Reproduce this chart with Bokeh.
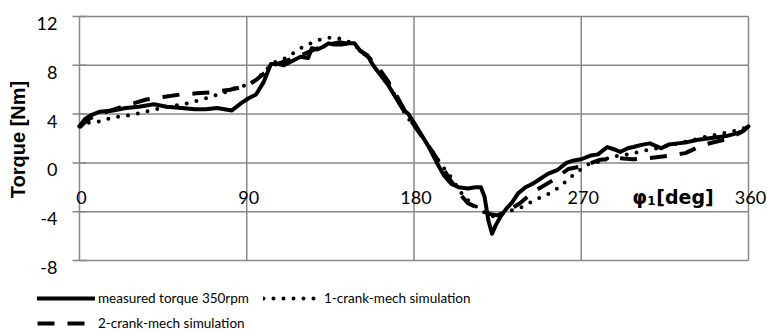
import math
from bokeh.plotting import figure
from bokeh.models import Range1d, Legend, LegendItem
from bokeh.core.properties import value
from bokeh.embed import file_html
from bokeh.resources import INLINE

# ---- data -------------------------------------------------------------
x_ticks = [0, 90, 180, 270, 360]
y_ticks = [-8, -4, 0, 4, 8, 12]
x_labels = [str(t) for t in x_ticks]
y_labels = [str(t) for t in y_ticks]

meas_deg = [0, 3, 6, 11, 18, 25, 32, 40, 47, 55, 62, 68, 74, 78, 82, 87, 91, 95, 99, 103,
            107, 110, 115, 119, 123, 125, 128, 131, 134, 137, 141, 145, 148, 151, 155, 158,
            162, 166, 170, 174, 177, 180, 184, 188, 192, 196, 200, 204, 209, 213, 216, 218,
            220, 222, 224, 227, 230, 233, 236, 240, 244, 248, 252, 257, 262, 266, 270, 275,
            279, 284, 288, 291, 295, 298, 303, 307, 310, 313, 317, 322, 327, 333, 338, 343,
            348, 353, 357, 360]
meas_torque = [3.0, 3.6, 3.9, 4.2, 4.3, 4.5, 4.6, 4.8, 4.6, 4.5, 4.4, 4.4, 4.5, 4.4, 4.3, 4.9,
               5.3, 5.6, 6.6, 8.1, 8.1, 8.0, 8.4, 8.7, 8.6, 9.4, 9.3, 9.5, 9.8, 9.7, 9.7, 9.8,
               9.8, 9.2, 8.8, 8.0, 7.2, 6.4, 5.4, 4.4, 4.0, 3.3, 2.3, 1.3, 0.1, -1.0, -1.7, -2.0,
               -2.1, -2.0, -2.0, -2.8, -4.7, -5.8, -5.1, -4.3, -3.7, -3.2, -2.5, -2.0, -1.7,
               -1.3, -0.9, -0.6, 0.0, 0.2, 0.3, 0.6, 0.7, 1.3, 1.1, 0.9, 1.2, 1.3, 1.5, 1.6,
               1.4, 1.2, 1.5, 1.6, 1.7, 1.9, 2.0, 2.1, 2.2, 2.4, 2.6, 3.0]

one_deg = [0, 5, 11, 17, 22, 27, 33, 38, 44, 51, 56, 61, 66, 72, 77, 83, 88, 93, 97, 104,
           111, 115, 121, 126, 131, 137, 142, 147, 152, 156, 159, 166, 171, 176, 180, 185,
           190, 195, 200, 207, 212, 216, 222, 227, 232, 237, 242, 247, 253, 259, 264, 270,
           275, 280, 286, 295, 304, 314, 325, 336, 345, 352, 357, 360]
one_torque = [3.0, 3.3, 3.4, 3.7, 3.8, 3.9, 4.1, 4.3, 4.5, 4.7, 4.8, 5.0, 5.2, 5.5, 5.7, 6.1,
              6.3, 6.6, 7.1, 8.2, 8.6, 9.0, 9.6, 9.9, 10.2, 10.3, 10.1, 9.8, 9.1, 8.5, 7.8,
              6.5, 5.2, 3.8, 3.1, 2.0, 0.9, -0.2, -1.2, -2.8, -3.4, -3.9, -4.4, -4.2, -3.9,
              -3.7, -3.3, -2.9, -2.5, -1.9, -1.2, -0.5, 0.0, 0.1, 0.5, 0.7, 1.0, 1.3, 1.7,
              2.1, 2.4, 2.6, 2.8, 3.0]

two_deg = [0, 4, 10, 17, 26, 36, 45, 54, 63, 72, 81, 90, 95, 99, 104, 110, 116, 122, 128, 134,
           140, 146, 151, 156, 160, 166, 171, 176, 180, 185, 190, 195, 200, 205, 209, 216,
           221, 225, 232, 237, 244, 255, 263, 271, 280, 290, 298, 307, 318, 326, 336, 347,
           356, 360]
two_torque = [2.9, 3.5, 4.0, 4.3, 4.75, 5.2, 5.4, 5.6, 5.7, 5.8, 6.0, 6.3, 6.8, 7.3, 8.0, 8.3,
              8.6, 9.0, 9.4, 9.7, 9.9, 9.7, 9.2, 8.6, 8.0, 6.7, 5.4, 4.0, 3.1, 2.0, 0.9, -0.3,
              -1.5, -2.6, -3.3, -3.8, -4.2, -4.3, -3.8, -3.3, -2.4, -1.4, -0.5, -0.25, 0.25,
              0.4, 0.3, 0.4, 0.6, 0.8, 1.5, 1.9, 2.5, 3.0]

series_names = ["measured torque 350rpm", "1-crank-mech simulation", "2-crank-mech simulation"]
y_title = "Torque [Nm]"
x_title_parts = ["φ", "1", "[deg]"]

# ---- layout: the frame fills the whole canvas ---------------------------
W, H = 767, 331
PL, PR, PT, PB = 79, 748, 16, 260          # pixel box of the plotting area
xmin, xmax = x_ticks[0], x_ticks[-1]
ymin, ymax = y_ticks[0], y_ticks[-1]
sx = (PR - PL) / (xmax - xmin)
sy = (PB - PT) / (ymax - ymin)
x_range = Range1d(xmin - PL / sx, xmax + (W - PR) / sx)
y_range = Range1d(ymin - (H - PB) / sy, ymax + PT / sy)

p = figure(width=W, height=H, output_backend="svg", toolbar_location=None,
           x_range=x_range, y_range=y_range, x_axis_location=None, y_axis_location=None,
           min_border=0)
p.outline_line_color = None
p.xgrid.visible = False
p.ygrid.visible = False
p.background_fill_color = "white"
p.border_fill_color = "white"

GRID = "#888888"
FONT = value("Lato")

# grid lines (horizontal and vertical), bounded by the tick ranges
p.segment(x0=[xmin] * len(y_ticks), x1=[xmax] * len(y_ticks), y0=y_ticks, y1=y_ticks,
          line_color=GRID, line_width=1.5)
p.segment(x0=x_ticks, x1=x_ticks, y0=[ymin] * len(x_ticks), y1=[ymax] * len(x_ticks),
          line_color=GRID, line_width=1.5)
# y-axis tick marks (stick out to the left of the axis)
p.scatter(x=[xmin] * len(y_ticks), y=y_ticks, marker="dash", size=14,
          line_color=GRID, line_width=1.5)

# tick labels
p.text(x=[xmin] * len(y_ticks), y=y_ticks, text=y_labels, text_font=FONT,
       text_font_size=value("18px"), text_color="black", text_align="right",
       text_baseline="alphabetic", x_offset=-22, y_offset=7)
p.text(x=x_ticks, y=[0] * len(x_ticks), text=x_labels, text_font=FONT,
       text_font_size=value("18px"), text_color="black", text_align="center",
       text_baseline="alphabetic", x_offset=2, y_offset=35)

# y title
p.text(x=[xmin], y=[(ymin + ymax) / 2], text=[y_title], angle=math.pi / 2,
       text_font=value("Liberation Sans"), text_font_style="bold",
       text_font_size=value("20px"), text_color="black", text_align="center",
       text_baseline="middle", x_offset=-62, y_offset=1)

# x title  φ1 [deg]
p.text(x=[x_ticks[3]], y=[0], text=[x_title_parts[0]], text_font=value("DejaVu Sans"),
       text_font_style="bold", text_font_size=value("19px"), text_color="black",
       text_align="left", text_baseline="middle", x_offset=51, y_offset=34)
p.text(x=[x_ticks[3]], y=[0], text=[x_title_parts[1]], text_font=value("DejaVu Sans"),
       text_font_style="bold", text_font_size=value("12px"), text_color="black",
       text_align="left", text_baseline="middle", x_offset=66, y_offset=38)
p.text(x=[x_ticks[3]], y=[0], text=[x_title_parts[2]], text_font=value("DejaVu Sans"),
       text_font_style="bold", text_font_size=value("19px"), text_color="black",
       text_align="left", text_baseline="middle", x_offset=75, y_offset=34)

# ---- lines ------------------------------------------------------------
r_meas = p.line(meas_deg, meas_torque, line_color="black", line_width=4,
                line_join="round", line_cap="round")
r_one = p.line(one_deg, one_torque, line_color="black", line_width=4,
               line_dash="0 10", line_cap="round", line_join="round")
r_two = p.line(two_deg, two_torque, line_color="black", line_width=4,
               line_dash="17 13", line_join="round")

# ---- legend (two rows) ---------------------------------------------------
legend_style = dict(orientation="horizontal", glyph_width=58, glyph_height=18,
                    label_height=18, label_standoff=3, spacing=14, padding=0, margin=0,
                    label_text_font="Lato", label_text_font_size="13.5px",
                    label_text_color="black", border_line_color=None,
                    background_fill_alpha=0)
legend_top = Legend(items=[LegendItem(label=series_names[0], renderers=[r_meas]),
                           LegendItem(label=series_names[1], renderers=[r_one])],
                    location=(37, 24), **legend_style)
legend_bottom = Legend(items=[LegendItem(label=series_names[2], renderers=[r_two])],
                       location=(37, -1), **legend_style)
p.add_layout(legend_top)
p.add_layout(legend_bottom)

open("out.html", "w").write(file_html(p, INLINE))
